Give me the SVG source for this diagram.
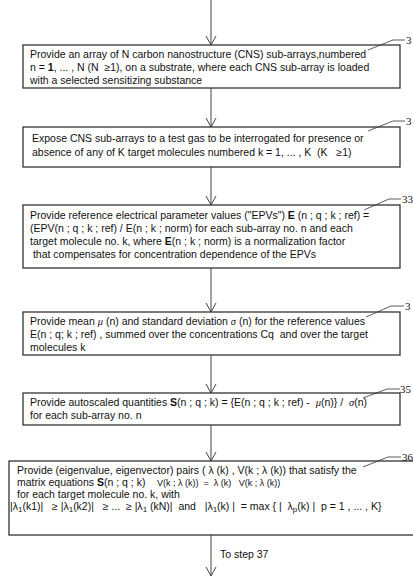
<svg xmlns="http://www.w3.org/2000/svg" width="413" height="576" viewBox="0 0 413 576">
<defs>
<style>
.box{fill:#fff;stroke:#333;stroke-width:1.3}
.t{font-family:"Liberation Sans",Arial,sans-serif;font-size:10.5px;fill:#111;white-space:pre}
.g{font-family:"Liberation Serif","Times New Roman",serif;font-style:italic}
.s{font-size:8px}
.lbl{font-family:"Liberation Serif","Times New Roman",serif;font-size:11px;fill:#111}
.ln{fill:none;stroke:#444;stroke-width:1}
.lead{fill:none;stroke:#333;stroke-width:0.8}
</style>
</defs>
<rect width="413" height="576" fill="#fff"/>
<g id="connectors">
<path class="ln" d="M211,0 V45 M206,36 L211,45 L216,36"/>
<path class="ln" d="M211,88 V127 M206,118 L211,127 L216,118"/>
<path class="ln" d="M211,167 V205 M206,196 L211,205 L216,196"/>
<path class="ln" d="M211,268 V312 M206,303 L211,312 L216,303"/>
<path class="ln" d="M211,355 V393 M206,384 L211,393 L216,384"/>
<path class="ln" d="M211,425 V461 M206,452 L211,461 L216,452"/>
<path class="ln" d="M211,535 V576 M206,567 L211,576 L216,567"/>
</g>
<g id="n31">
<rect class="box" x="23" y="45" width="377" height="43"/>
<text class="t" x="30" y="58">Provide an array of N carbon nanostructure (CNS) sub-arrays,numbered</text>
<text class="t" x="30" y="71">n = <tspan font-weight="bold">1</tspan>, ... , N (N  ≥1), on a substrate, where each CNS sub-array is loaded</text>
<text class="t" x="30" y="84">with a selected sensitizing substance</text>
<path class="lead" d="M368,50 L393,40 L405,40"/>
<text class="lbl" x="406" y="44">3</text>
</g>
<g id="n32">
<rect class="box" x="23" y="127" width="377" height="40"/>
<text class="t" x="32" y="142">Expose CNS sub-arrays to a test gas to be interrogated for presence or</text>
<text class="t" x="32" y="156">absence of any of K target molecules numbered k = 1, ... , K  (K   ≥1)</text>
<path class="lead" d="M368,131 L393,121 L405,121"/>
<text class="lbl" x="406" y="125">3</text>
</g>
<g id="n33">
<rect class="box" x="23" y="205" width="377" height="63"/>
<text class="t" x="30" y="219">Provide reference electrical parameter values ("EPVs") <tspan font-weight="bold">E</tspan> (n ; q ; k ; ref) =</text>
<text class="t" x="30" y="232">(EPV(n ; q ; k ; ref) / E(n ; k ; norm) for each sub-array no. n and each</text>
<text class="t" x="30" y="245">target molecule no. k, where <tspan font-weight="bold">E</tspan>(n ; k ; norm) is a normalization factor</text>
<text class="t" x="30" y="258"> that compensates for concentration dependence of the EPVs</text>
<path class="lead" d="M364,210 L389,199 L401,199"/>
<text class="lbl" x="402" y="203">33</text>
</g>
<g id="n34">
<rect class="box" x="23" y="312" width="377" height="43"/>
<text class="t" x="30" y="325">Provide mean <tspan class="g">μ</tspan> (n) and standard deviation <tspan class="g">σ</tspan> (n) for the reference values</text>
<text class="t" x="30" y="338">E(n ; q; k ; ref) , summed over the concentrations Cq  and over the target</text>
<text class="t" x="30" y="351">molecules k</text>
<path class="lead" d="M366,317 L391,306 L404,306"/>
<text class="lbl" x="405" y="310">3</text>
</g>
<g id="n35">
<rect class="box" x="23" y="393" width="377" height="32"/>
<text class="t" x="30" y="406">Provide autoscaled quantities <tspan font-weight="bold">S</tspan>(n ; q ; k) = {E(n ; q ; k ; ref) -  <tspan class="g">μ</tspan>(n)} /  <tspan class="g">σ</tspan>(n)</text>
<text class="t" x="30" y="419">for each sub-array no. n</text>
<path class="lead" d="M363,398 L387,389 L400,389"/>
<text class="lbl" x="400" y="393">35</text>
</g>
<g id="n36">
<rect class="box" x="9" y="461" width="420" height="74"/>
<text class="t" x="17" y="474">Provide (eigenvalue, eigenvector) pairs ( λ (k) , V(k ; λ (k)) that satisfy the</text>
<text class="t" x="17" y="486">matrix equations <tspan font-weight="bold">S</tspan>(n ; q ; k)    <tspan font-size="9px">V(k ; λ (k))  =  λ (k)   V(k ; λ (k))</tspan></text>
<text class="t" x="17" y="498">for each target molecule no. k, with</text>
<text class="t" x="10" y="510">|λ<tspan class="s" dy="2">1</tspan><tspan dy="-2">(k1)|   ≥ |λ</tspan><tspan class="s" dy="2">1</tspan><tspan dy="-2">(k2)|   ≥ ...  ≥ |λ</tspan><tspan class="s" dy="2">1</tspan><tspan dy="-2"> (kN)|  and   |λ</tspan><tspan class="s" dy="2">1</tspan><tspan dy="-2">(k) |  = max { |  λ</tspan><tspan class="s" dy="2">p</tspan><tspan dy="-2">(k) |  p = 1 , ... , K}</tspan></text>
<path class="lead" d="M363,467 L388,457 L401,457"/>
<text class="lbl" x="402" y="461">36</text>
</g>
<g id="step37">
<text class="t" x="220" y="558">To step 37</text>
</g>
</svg>
